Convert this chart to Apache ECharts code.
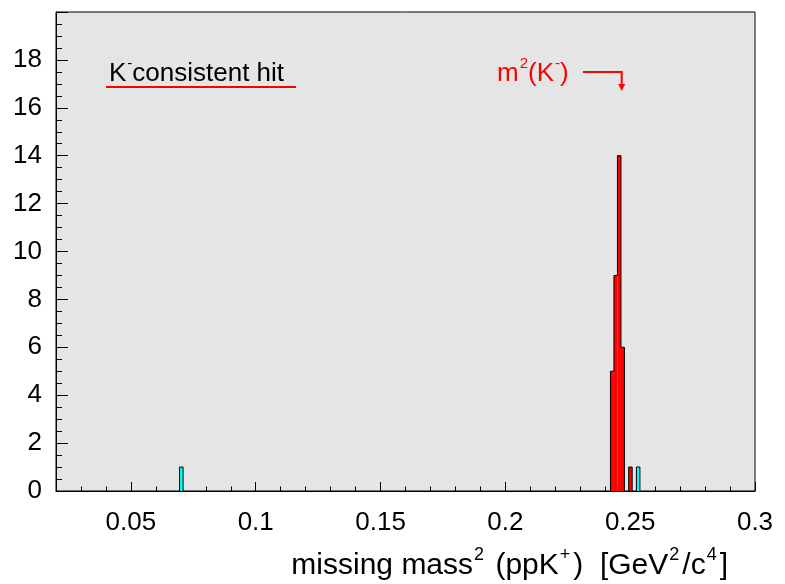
<!DOCTYPE html>
<html><head><meta charset="utf-8">
<script src="https://cdn.jsdelivr.net/npm/echarts@6/dist/echarts.min.js"></script>
<style>html,body{margin:0;padding:0;background:#fff}#c{width:785px;height:584px}</style>
</head><body><div id="c"></div>
<script>
// ---- data ----
const binWidth = 0.0014;
const redBinLow = [0.2421, 0.2435, 0.2449, 0.2463, 0.2494];
const redCounts = [5, 9, 14, 6, 1];
const cyanBinLow = [0.0695, 0.2525];
const cyanCounts = [1, 1];
const xMajorTicks = [0.05, 0.1, 0.15, 0.2, 0.25, 0.3];
const xRange = [0.02, 0.3];
const yRange = [0, 20];
const arrowTargetX = 0.2466;   // m^2(K-) marker
const arrowStartX = 0.2311;
const arrowLevelY = 17.5;
const arrowTipY = 16.7;

const FONT = '"Liberation Sans", Arial, Helvetica, sans-serif';

function buildHist(lows, counts) {
  return lows.map((lo, i) => {
    const prevAdj = i > 0 && Math.abs(lows[i - 1] + binWidth - lo) < 1e-7;
    const nextAdj = i < lows.length - 1 && Math.abs(lo + binWidth - lows[i + 1]) < 1e-7;
    return [lo, lo + binWidth, counts[i], prevAdj ? counts[i - 1] : 0, nextAdj ? 1 : 0];
  });
}

function histItem(color) {
  return function (params, api) {
    const x0 = api.value(0), x1 = api.value(1), y = api.value(2), py = api.value(3), nadj = api.value(4);
    const a = api.coord([x0, 0]), b = api.coord([x1, y]), c = api.coord([x0, py]);
    const pts = [[a[0], c[1]], [a[0], b[1]], [b[0], b[1]]];
    if (!nadj) pts.push([b[0], a[1]]);
    return {
      type: 'group',
      children: [
        { type: 'rect', shape: { x: a[0], y: b[1], width: b[0] - a[0], height: a[1] - b[1] }, style: { fill: color } },
        { type: 'polyline', shape: { points: pts }, style: { stroke: '#000', lineWidth: 1, fill: null } }
      ]
    };
  };
}

const chart = echarts.init(document.getElementById('c'), null, { renderer: 'canvas' });
chart.setOption({
  animation: false,
  backgroundColor: '#ffffff',
  grid: { left: 56, right: 30, top: 12, bottom: 93, show: true, backgroundColor: '#e5e5e5', borderColor: '#000', borderWidth: 1 },
  xAxis: [
    {
      type: 'value', min: xRange[0], max: xRange[1], interval: 0.01, position: 'bottom',
      axisLine: { show: true, onZero: false, lineStyle: { color: '#000', width: 1 } },
      axisTick: { show: true, inside: true, length: 4.5, lineStyle: { color: '#000' } },
      axisLabel: { show: false }, splitLine: { show: false }
    },
    {
      type: 'value', min: xRange[0], max: xRange[1], interval: 0.01, position: 'bottom',
      axisLine: { show: false },
      axisTick: { show: true, inside: true, length: 9, customValues: xMajorTicks, lineStyle: { color: '#000' } },
      axisLabel: { show: true, customValues: xMajorTicks, fontSize: 26, fontFamily: FONT, color: '#000', margin: 19 },
      splitLine: { show: false }
    }
  ],
  yAxis: {
    type: 'value', min: yRange[0], max: yRange[1], interval: 2,
    axisLine: { show: true, onZero: false, lineStyle: { color: '#000', width: 1 } },
    axisTick: { show: true, inside: true, length: 12, lineStyle: { color: '#000' } },
    minorTick: { show: true, splitNumber: 4, length: 6, lineStyle: { color: '#000' } },
    axisLabel: { fontSize: 26, fontFamily: FONT, color: '#000', margin: 14, showMaxLabel: false },
    splitLine: { show: false }
  },
  series: [
    { type: 'custom', xAxisIndex: 0, yAxisIndex: 0, renderItem: histItem('#00ffff'), data: buildHist(cyanBinLow, cyanCounts), clip: true },
    { type: 'custom', xAxisIndex: 0, yAxisIndex: 0, renderItem: histItem('#ff0000'), data: buildHist(redBinLow, redCounts), clip: true }
  ]
});

const pS = chart.convertToPixel({ xAxisIndex: 0, yAxisIndex: 0 }, [arrowStartX, arrowLevelY]);
const pT = chart.convertToPixel({ xAxisIndex: 0, yAxisIndex: 0 }, [arrowTargetX, arrowLevelY]);
const pTip = chart.convertToPixel({ xAxisIndex: 0, yAxisIndex: 0 }, [arrowTargetX, arrowTipY]);

function rich(color, size, supSize, pad) {
  return {
    t: { fill: color, fontSize: size, fontFamily: FONT, lineHeight: size + 5, verticalAlign: 'bottom' },
    s: { fill: color, fontSize: supSize, fontFamily: FONT, lineHeight: supSize, verticalAlign: 'top', padding: [0, pad, 0, 1] }
  };
}

chart.setOption({
  graphic: [
    { type: 'text', left: 109, top: 56, style: { text: '{t|K}{s|-}{t|consistent hit}', rich: rich('#000', 26, 15, 0) } },
    { type: 'line', shape: { x1: 106, y1: 87, x2: 296, y2: 87 }, style: { stroke: '#ff0000', lineWidth: 2 } },
    { type: 'text', left: 497, top: 56, style: { text: '{t|m}{s|2}{t|(K}{s|-}{t|)}', rich: rich('#ff0000', 26, 15, 0) } },
    { type: 'polyline', shape: { points: [pS, pT, [pT[0], pTip[1] - 6]] }, style: { stroke: '#ff0000', lineWidth: 2, fill: null } },
    { type: 'polygon', shape: { points: [[pTip[0] - 3.5, pTip[1] - 7], [pTip[0] + 3.5, pTip[1] - 7], [pTip[0], pTip[1]]] }, style: { fill: '#ff0000' } },
    { type: 'text', right: 57, top: 546, style: { text: '{t|missing mass}{s|2}{t| (ppK}{s|+}{t|)  [GeV}{s|2}{t|/c}{s|4}{t|]}', rich: rich('#000', 30, 18, 3) } }
  ]
});
</script>
</body></html>
